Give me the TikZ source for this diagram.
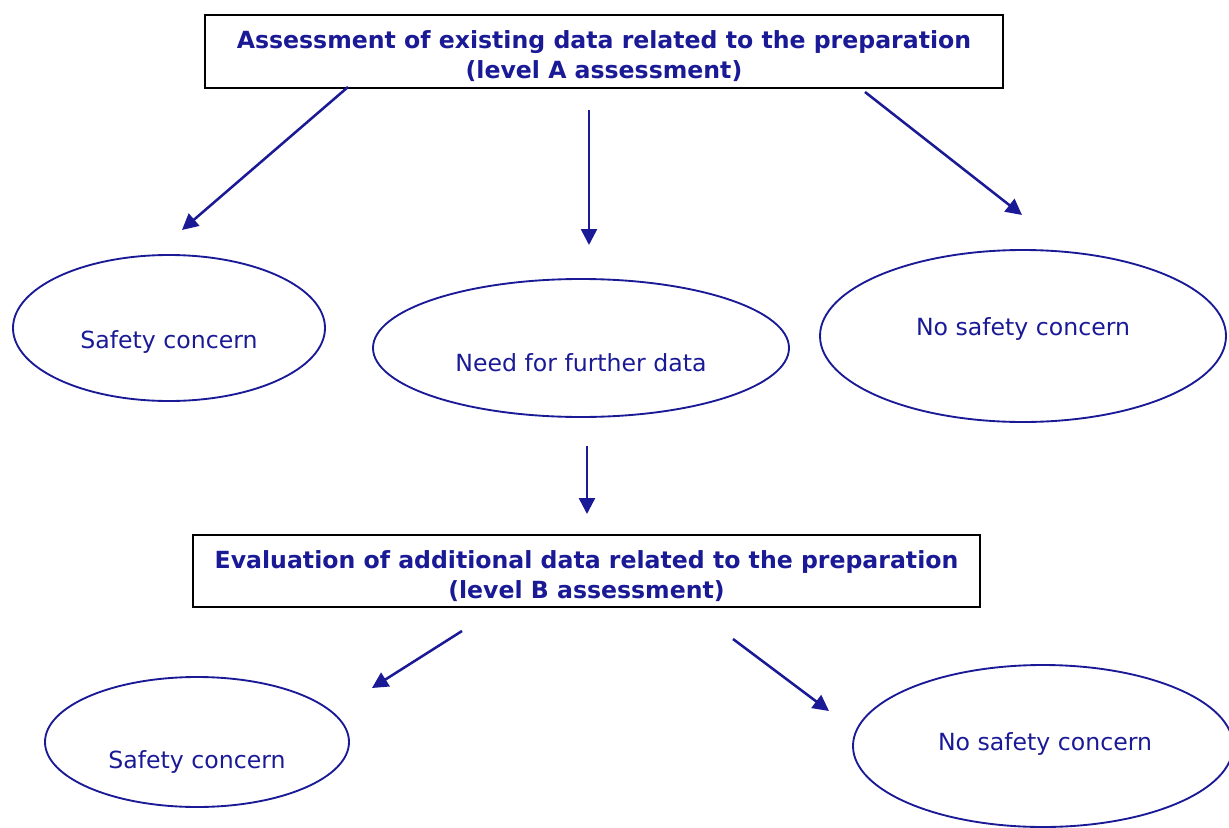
\documentclass[tikz,border=0pt]{standalone}
\usepackage{fontspec}
\setmainfont{DejaVu Sans}
\usetikzlibrary{shapes.geometric,arrows.meta}
\definecolor{navy}{RGB}{26,26,150}
\tikzset{
  titlebox/.style={draw=black,line width=1.2pt,inner sep=0pt},
  titletext/.style={inner sep=0pt,align=center,text=navy,
    font=\fontsize{17.7}{22.5}\selectfont\bfseries},
  oval/.style={draw=navy,ellipse,line width=1.4pt,inner sep=0pt},
  ovaltext/.style={text=navy,font=\fontsize{17.7}{21}\selectfont,inner sep=0pt},
  flow/.style={draw=navy,line width=1.9pt,-{Triangle[length=12pt,width=12pt]}}
}
\begin{document}
\begin{tikzpicture}[x=0.75pt,y=-0.75pt]
\useasboundingbox (0,0) rectangle (1229,828);
% boxes
\node[titlebox,minimum width=598.5pt,minimum height=54.75pt] (boxA) at (604,51.5) {};
\node[titletext] (titleA) at (604,56)
  {Assessment of existing data related to the preparation\\(level A assessment)};
\node[titlebox,minimum width=590.25pt,minimum height=54pt] (boxB) at (586.5,571) {};
\node[titletext] (titleB) at (586.5,576)
  {Evaluation of additional data related to the preparation\\(level B assessment)};
% ellipses
\node[oval,minimum width=234pt,minimum height=109.5pt] (e1) at (169,328) {};
\node[oval,minimum width=312pt,minimum height=103.5pt] (e2) at (581,348) {};
\node[oval,minimum width=304.5pt,minimum height=129pt] (e3) at (1023,336) {};
\node[oval,minimum width=228pt,minimum height=97.5pt] (e4) at (197,742) {};
\node[oval,minimum width=285pt,minimum height=121.5pt] (e5) at (1043,746) {};
% ellipse texts
\node[ovaltext] (t1) at (169,342) {Safety concern};
\node[ovaltext] (t2) at (581,363) {Need for further data};
\node[ovaltext] (t3) at (1023,329) {No safety concern};
\node[ovaltext] (t4) at (197,762) {Safety concern};
\node[ovaltext] (t5) at (1045,744) {No safety concern};
% arrow coordinates
\coordinate (a1s) at (348,87);
\coordinate (a1e) at (182,230);
\coordinate (a2s) at (589,110);
\coordinate (a2e) at (589,245);
\coordinate (a3s) at (865,92);
\coordinate (a3e) at (1022,215);
\coordinate (a4s) at (587,446);
\coordinate (a4e) at (587,514);
\coordinate (a5s) at (462,631);
\coordinate (a5e) at (372,688);
\coordinate (a6s) at (733,639);
\coordinate (a6e) at (829,711);
\draw[flow] (a1s) -- (a1e);
\draw[flow] (a2s) -- (a2e);
\draw[flow] (a3s) -- (a3e);
\draw[flow] (a4s) -- (a4e);
\draw[flow] (a5s) -- (a5e);
\draw[flow] (a6s) -- (a6e);
\end{tikzpicture}
\end{document}
